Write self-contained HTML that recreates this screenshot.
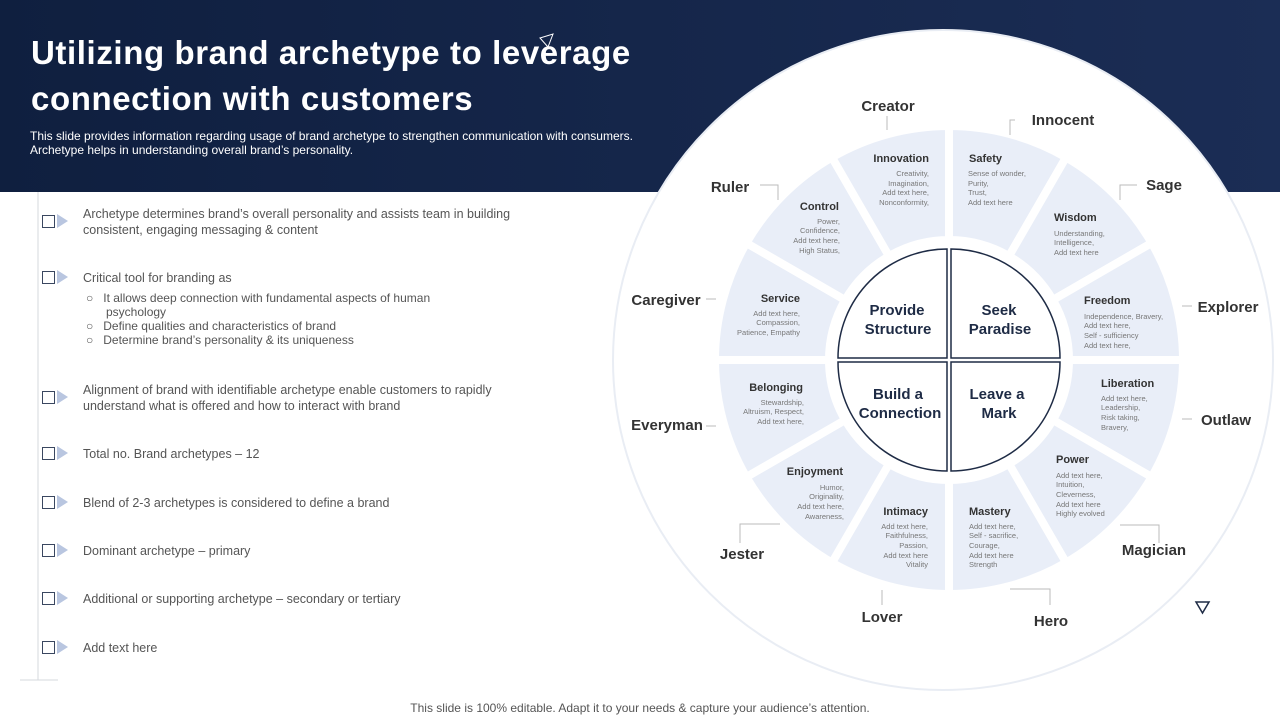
<!DOCTYPE html>
<html><head><meta charset="utf-8"><style>
body{margin:0;width:1280px;height:720px;overflow:hidden;background:#fff;font-family:"Liberation Sans",sans-serif;position:relative}
.hdr{position:absolute;left:0;top:0;width:1280px;height:192px;background:linear-gradient(90deg,#0f1f3f,#1b2d55)}
h1{position:absolute;left:31px;top:30px;margin:0;color:#fff;font-size:33px;line-height:46px;font-weight:bold;letter-spacing:0.6px;font-family:"Liberation Sans",sans-serif}
.sub{position:absolute;left:30px;top:129px;color:#fff;font-size:12px;line-height:14px}
.b{position:absolute;left:83px;color:#555;font-size:12.5px;line-height:16px}
.ic{position:absolute;left:42px;width:11px;height:11px;border:1px solid #3a4760}
.tr{position:absolute;left:57px;width:0;height:0;border-top:7px solid transparent;border-bottom:7px solid transparent;border-left:11px solid #b9c6e0}
.sl{font-size:12px;color:#555;line-height:14px}
.foot{position:absolute;top:701px;width:1280px;text-align:center;font-size:12px;color:#555}
svg{position:absolute;left:0;top:0}
</style></head><body>
<div class="hdr"></div>
<svg width="1280" height="720">
<circle cx="943" cy="360" r="330" fill="#fff" stroke="#e9edf4" stroke-width="2"/>
<g fill="#e9eef8" stroke="#fff" stroke-width="8">
<path d="M949 126A234 234 0 0 1 1066 157.4L1009 256.1A120 120 0 0 0 949 240Z"/>
<path d="M1066 157.4A234 234 0 0 1 1151.6 243L1052.9 300A120 120 0 0 0 1009 256.1Z"/>
<path d="M1151.6 243A234 234 0 0 1 1183 360L1069 360A120 120 0 0 0 1052.9 300Z"/>
<path d="M1183 360A234 234 0 0 1 1151.6 477L1052.9 420A120 120 0 0 0 1069 360Z"/>
<path d="M1151.6 477A234 234 0 0 1 1066 562.6L1009 463.9A120 120 0 0 0 1052.9 420Z"/>
<path d="M1066 562.6A234 234 0 0 1 949 594L949 480A120 120 0 0 0 1009 463.9Z"/>
<path d="M949 594A234 234 0 0 1 832 562.6L889 463.9A120 120 0 0 0 949 480Z"/>
<path d="M832 562.6A234 234 0 0 1 746.4 477L845.1 420A120 120 0 0 0 889 463.9Z"/>
<path d="M746.4 477A234 234 0 0 1 715 360L829 360A120 120 0 0 0 845.1 420Z"/>
<path d="M715 360A234 234 0 0 1 746.4 243L845.1 300A120 120 0 0 0 829 360Z"/>
<path d="M746.4 243A234 234 0 0 1 832 157.4L889 256.1A120 120 0 0 0 845.1 300Z"/>
<path d="M832 157.4A234 234 0 0 1 949 126L949 240A120 120 0 0 0 889 256.1Z"/>
</g>
<g fill="#fff" stroke="#1e2b45" stroke-width="1.5">
<path d="M947 358L838 358A109 109 0 0 1 947 249Z"/>
<path d="M951 358L1060 358A109 109 0 0 0 951 249Z"/>
<path d="M947 362L838 362A109 109 0 0 0 947 471Z"/>
<path d="M951 362L1060 362A109 109 0 0 1 951 471Z"/>
</g>
<g stroke="#bbb" fill="none" stroke-width="1">
<path d="M760 185H778V200"/><path d="M887 116V130"/><path d="M1015 120H1010V135"/><path d="M1137 185H1120V200"/>
<path d="M706 299H716"/><path d="M1182 306H1192"/><path d="M706 426H716"/><path d="M1182 419H1192"/>
<path d="M740 543V524H780"/><path d="M1120 525H1159V543"/><path d="M882 605V590"/><path d="M1010 589H1050V605"/>
</g>
<path d="M38 192V680M20 680H58" stroke="#d5d8de" stroke-width="1" fill="none"/>
<path d="M1196 602L1209 602L1202.5 613Z" fill="none" stroke="#1e2b45" stroke-width="1.5"/>
<path d="M540 38L553 34L548 47Z" fill="none" stroke="#fff" stroke-width="1"/>
<g font-family="Liberation Sans,sans-serif" font-weight="bold" fill="#333" font-size="15" text-anchor="middle">
<text x="888" y="111">Creator</text><text x="1063" y="125">Innocent</text><text x="730" y="192">Ruler</text><text x="1164" y="190">Sage</text>
<text x="666" y="305">Caregiver</text><text x="1228" y="312">Explorer</text><text x="667" y="430">Everyman</text><text x="1226" y="425">Outlaw</text>
<text x="742" y="559">Jester</text><text x="1154" y="555">Magician</text><text x="882" y="622">Lover</text><text x="1051" y="626">Hero</text>
</g>
<g font-family="Liberation Sans,sans-serif" font-weight="bold" fill="#1e2b45" font-size="15" text-anchor="middle">
<text x="897" y="315">Provide</text><text x="898" y="334">Structure</text>
<text x="999" y="315">Seek</text><text x="1000" y="334">Paradise</text>
<text x="898" y="399">Build a</text><text x="900" y="418">Connection</text>
<text x="997" y="399">Leave a</text><text x="999" y="418">Mark</text>
</g>
<g font-family="Liberation Sans,sans-serif" font-weight="bold" fill="#333" font-size="11">
<text x="929" y="162" text-anchor="end">Innovation</text><text x="969" y="162">Safety</text>
<text x="839" y="210" text-anchor="end">Control</text><text x="1054" y="221">Wisdom</text>
<text x="800" y="302" text-anchor="end">Service</text><text x="1084" y="304">Freedom</text>
<text x="803" y="391" text-anchor="end">Belonging</text><text x="1101" y="387">Liberation</text>
<text x="843" y="475" text-anchor="end">Enjoyment</text><text x="1056" y="463">Power</text>
<text x="928" y="515" text-anchor="end">Intimacy</text><text x="969" y="515">Mastery</text>
</g>
<g font-family="Liberation Sans,sans-serif" fill="#777" font-size="7.5">
<g text-anchor="end">
<text x="929" y="176">Creativity,</text><text x="929" y="186">Imagination,</text><text x="929" y="195">Add text here,</text><text x="929" y="205">Nonconformity,</text>
<text x="840" y="224">Power,</text><text x="840" y="233">Confidence,</text><text x="840" y="243">Add text here,</text><text x="840" y="253">High Status,</text>
<text x="800" y="316">Add text here,</text><text x="800" y="325">Compassion,</text><text x="800" y="335">Patience,  Empathy</text>
<text x="804" y="405">Stewardship,</text><text x="804" y="414">Altruism, Respect,</text><text x="804" y="424">Add text here,</text>
<text x="844" y="490">Humor,</text><text x="844" y="499">Originality,</text><text x="844" y="509">Add text here,</text><text x="844" y="519">Awareness,</text>
<text x="928" y="529">Add text here,</text><text x="928" y="538">Faithfulness,</text><text x="928" y="548">Passion,</text><text x="928" y="558">Add text here</text><text x="928" y="567">Vitality</text>
</g>
<text x="968" y="176">Sense of wonder,</text><text x="968" y="186">Purity,</text><text x="968" y="195">Trust,</text><text x="968" y="205">Add text here</text>
<text x="1054" y="236">Understanding,</text><text x="1054" y="245">Intelligence,</text><text x="1054" y="255">Add text here</text>
<text x="1084" y="319">Independence,   Bravery,</text><text x="1084" y="328">Add text here,</text><text x="1084" y="338">Self - sufficiency</text><text x="1084" y="348">Add text here,</text>
<text x="1101" y="401">Add text here,</text><text x="1101" y="410">Leadership,</text><text x="1101" y="420">Risk taking,</text><text x="1101" y="430">Bravery,</text>
<text x="1056" y="478">Add text here,</text><text x="1056" y="487">Intuition,</text><text x="1056" y="497">Cleverness,</text><text x="1056" y="507">Add text here</text><text x="1056" y="516">Highly evolved</text>
<text x="969" y="529">Add text here,</text><text x="969" y="538">Self - sacrifice,</text><text x="969" y="548">Courage,</text><text x="969" y="558">Add text here</text><text x="969" y="567">Strength</text>
</g>
</svg>
<h1>Utilizing brand archetype to leverage<br>connection with customers</h1>
<div class="sub">This slide provides information regarding usage of brand archetype to strengthen communication with consumers.<br>Archetype helps in understanding overall brand’s personality.</div>

<div class="ic" style="top:215px"></div><div class="tr" style="top:214px"></div>
<div class="b" style="top:206px">Archetype determines brand’s overall  personality and assists team in building<br>consistent, engaging  messaging &amp; content</div>
<div class="ic" style="top:271px"></div><div class="tr" style="top:270px"></div>
<div class="b" style="top:270px">Critical tool for  branding as</div>
<div class="b sl" style="top:291px;left:86px">○&nbsp;&nbsp;&nbsp;It allows deep connection with fundamental aspects of human<br>&nbsp;&nbsp;&nbsp;&nbsp;&nbsp;&nbsp;psychology<br>○&nbsp;&nbsp;&nbsp;Define qualities and characteristics of brand<br>○&nbsp;&nbsp;&nbsp;Determine brand’s personality &amp; its uniqueness</div>
<div class="ic" style="top:391px"></div><div class="tr" style="top:390px"></div>
<div class="b" style="top:382px">Alignment of brand with identifiable archetype enable customers to rapidly<br>understand  what is offered  and how to interact with brand</div>
<div class="ic" style="top:447px"></div><div class="tr" style="top:446px"></div>
<div class="b" style="top:446px">Total no. Brand archetypes – 12</div>
<div class="ic" style="top:496px"></div><div class="tr" style="top:495px"></div>
<div class="b" style="top:495px">Blend of 2-3 archetypes is considered to define  a brand</div>
<div class="ic" style="top:544px"></div><div class="tr" style="top:543px"></div>
<div class="b" style="top:543px">Dominant archetype – primary</div>
<div class="ic" style="top:592px"></div><div class="tr" style="top:591px"></div>
<div class="b" style="top:591px">Additional or supporting archetype – secondary or tertiary</div>
<div class="ic" style="top:641px"></div><div class="tr" style="top:640px"></div>
<div class="b" style="top:640px">Add text here</div>
<div class="foot">This slide is 100% editable. Adapt it to your needs &amp; capture your audience’s attention.</div>
</body></html>
